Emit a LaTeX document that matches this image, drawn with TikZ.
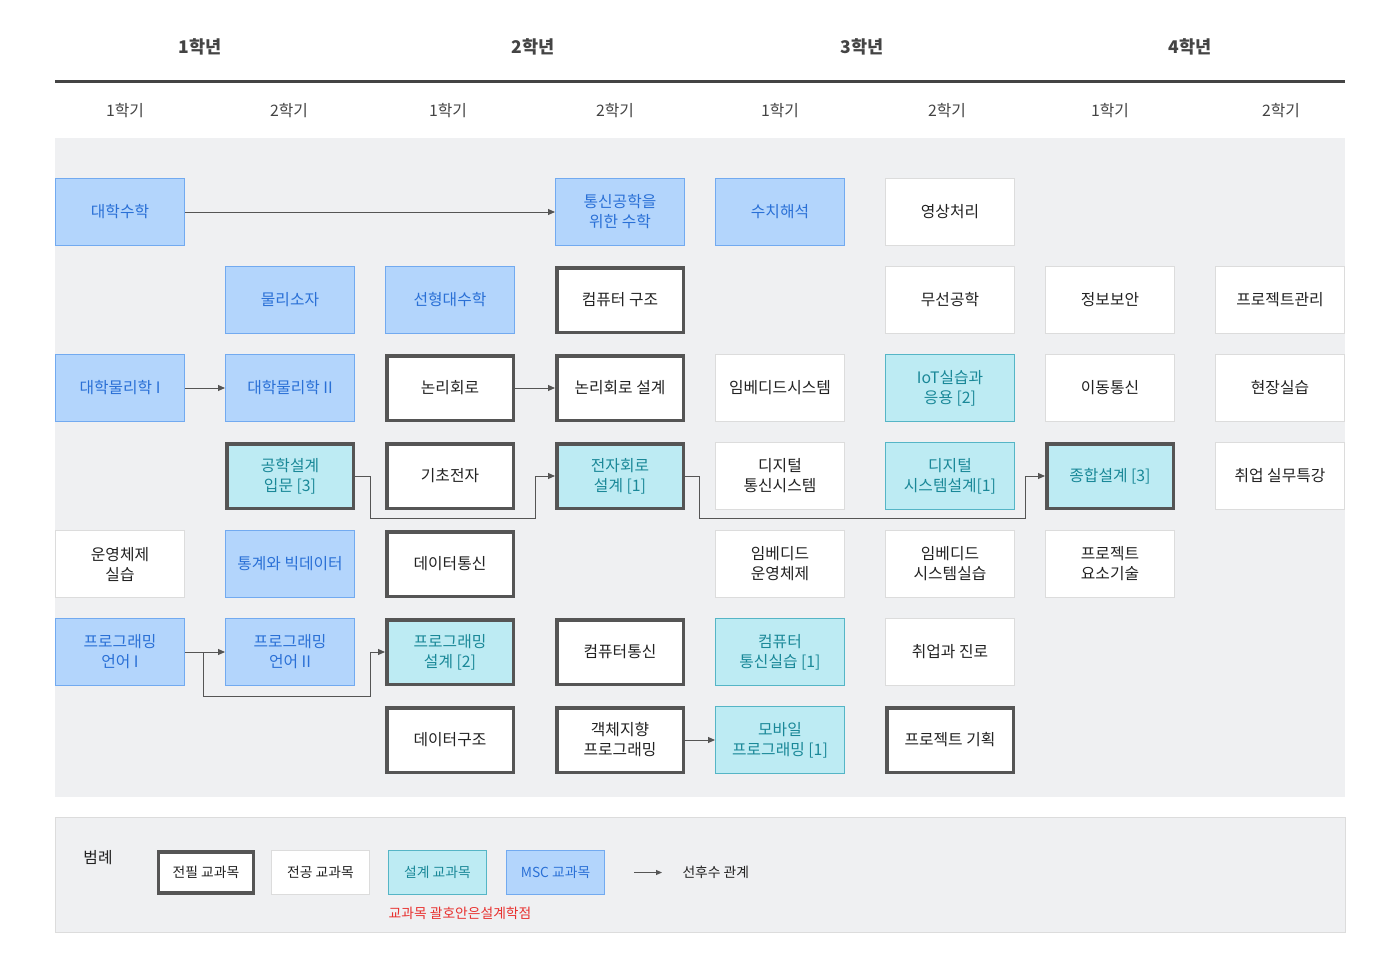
\documentclass[tikz,border=0pt]{standalone}
\usepackage{fontspec}
\setmainfont{Noto Sans CJK KR}
\usetikzlibrary{arrows.meta,calc}
\definecolor{panel}{HTML}{EFF0F2}
\definecolor{mscfill}{HTML}{B3D5FC}
\definecolor{mscline}{HTML}{72AAF0}
\definecolor{msctext}{HTML}{2A70D6}
\definecolor{dsgfill}{HTML}{BDEBF3}
\definecolor{dsgline}{HTML}{55B5C6}
\definecolor{dsgtext}{HTML}{1A8898}
\definecolor{majline}{HTML}{DCDCDC}
\definecolor{reqline}{HTML}{555555}
\definecolor{txt}{HTML}{222222}
\definecolor{hdr}{HTML}{444444}
\definecolor{conn}{HTML}{555555}
\definecolor{note}{HTML}{E8312F}
\begin{document}
\begin{tikzpicture}[x=1pt,y=-1pt,
  box/.style={inner sep=0pt, align=center, font=\fontsize{15.8}{20}\selectfont},
  thin/.style={box, line width=1pt, minimum width=129pt, minimum height=67pt},
  msc/.style={thin, fill=mscfill, draw=mscline, text=msctext},
  dsg/.style={thin, fill=dsgfill, draw=dsgline, text=dsgtext},
  maj/.style={thin, fill=white, draw=majline, text=txt},
  req/.style={box, line width=3.5pt, minimum width=126.5pt, minimum height=64.5pt, fill=white, draw=reqline, text=txt},
  reqd/.style={req, fill=dsgfill, text=dsgtext},
  arr/.style={draw=conn, line width=1pt, -{Triangle[length=7pt,width=6pt]}},
  year/.style={font=\fontsize{17.5}{20}\selectfont\bfseries, text=hdr},
  sem/.style={font=\fontsize{15.8}{20}\selectfont, text=hdr},
  lgbox/.style={inner sep=0pt, minimum width=98pt, minimum height=44pt, font=\fontsize{13.8}{16}\selectfont}
]
\useasboundingbox (0,0) rectangle (1400,971);
\fill[white] (0,0) rectangle (1400,971);

% header
\node[year] (y1) at (200,47) {1학년};
\node[year] (y2) at (533,47) {2학년};
\node[year] (y3) at (862,47) {3학년};
\node[year] (y4) at (1190,47) {4학년};
\draw[draw=hdr, line width=3pt] (55,82) -- (1345,82);
\node[sem] (s1) at (125,111) {1학기};
\node[sem] (s2) at (289,111) {2학기};
\node[sem] (s3) at (448,111) {1학기};
\node[sem] (s4) at (615,111) {2학기};
\node[sem] (s5) at (780,111) {1학기};
\node[sem] (s6) at (947,111) {2학기};
\node[sem] (s7) at (1110,111) {1학기};
\node[sem] (s8) at (1281,111) {2학기};

% panel
\fill[panel] (55,138) rectangle (1345,797);

% row 1
\node[msc] (a1) at (120,212) {대학수학};
\node[msc] (a4) at (620,212) {통신공학을\\위한 수학};
\node[msc] (a5) at (780,212) {수치해석};
\node[maj] (a6) at (950,212) {영상처리};
% row 2
\node[msc] (b2) at (290,300) {물리소자};
\node[msc] (b3) at (450,300) {선형대수학};
\node[req] (b4) at (620,300) {컴퓨터 구조};
\node[maj] (b6) at (950,300) {무선공학};
\node[maj] (b7) at (1110,300) {정보보안};
\node[maj] (b8) at (1280,300) {프로젝트관리};
% row 3
\node[msc] (c1) at (120,388) {대학물리학 I};
\node[msc] (c2) at (290,388) {대학물리학 II};
\node[req] (c3) at (450,388) {논리회로};
\node[req] (c4) at (620,388) {논리회로 설계};
\node[maj] (c5) at (780,388) {임베디드시스템};
\node[dsg] (c6) at (950,388) {IoT실습과\\응용 [2]};
\node[maj] (c7) at (1110,388) {이동통신};
\node[maj] (c8) at (1280,388) {현장실습};
% row 4
\node[reqd] (d2) at (290,476) {공학설계\\입문 [3]};
\node[req] (d3) at (450,476) {기초전자};
\node[reqd] (d4) at (620,476) {전자회로\\설계 [1]};
\node[maj] (d5) at (780,476) {디지털\\통신시스템};
\node[dsg] (d6) at (950,476) {디지털\\시스템설계[1]};
\node[reqd] (d7) at (1110,476) {종합설계 [3]};
\node[maj] (d8) at (1280,476) {취업 실무특강};
% row 5
\node[maj] (e1) at (120,564) {운영체제\\실습};
\node[msc] (e2) at (290,564) {통계와 빅데이터};
\node[req] (e3) at (450,564) {데이터통신};
\node[maj] (e5) at (780,564) {임베디드\\운영체제};
\node[maj] (e6) at (950,564) {임베디드\\시스템실습};
\node[maj] (e7) at (1110,564) {프로젝트\\요소기술};
% row 6
\node[msc] (f1) at (120,652) {프로그래밍\\언어 I};
\node[msc] (f2) at (290,652) {프로그래밍\\언어 II};
\node[reqd] (f3) at (450,652) {프로그래밍\\설계 [2]};
\node[req] (f4) at (620,652) {컴퓨터통신};
\node[dsg] (f5) at (780,652) {컴퓨터\\통신실습 [1]};
\node[maj] (f6) at (950,652) {취업과 진로};
% row 7
\node[req] (g3) at (450,740) {데이터구조};
\node[req] (g4) at (620,740) {객체지향\\프로그래밍};
\node[dsg] (g5) at (780,740) {모바일\\프로그래밍 [1]};
\node[req] (g6) at (950,740) {프로젝트 기획};

% connectors
\draw[arr] (a1.east) -- (a4.west);
\draw[arr] (c1.east) -- (c2.west);
\draw[arr] (c3.east) -- (c4.west);
\draw[arr] (d2.east) -| (370,518) -| (535,476) -- (d4.west);
\draw[arr] (d4.east) -| (699,518) -| (1025,476) -- (d7.west);
\draw[arr] (f1.east) -- (f2.west);
\coordinate (fb) at ($(f1.east)+(18,0)$);
\draw[arr] (fb) |- (370,696) |- (f3.west);
\draw[arr] (g4.east) -- (g5.west);

% legend
\draw[draw=majline, fill=panel, line width=1pt] (55,817) rectangle (1345,932);
\node[font=\fontsize{15.8}{20}\selectfont, text=txt] (lg) at (98,858) {범례};
\node[lgbox, draw=reqline, line width=3.5pt, minimum width=95pt, minimum height=41pt, fill=white, text=txt] (l1) at (206,872.5) {전필 교과목};
\node[lgbox, draw=majline, line width=1pt, fill=white, text=txt] (l2) at (320.5,872.5) {전공 교과목};
\node[lgbox, draw=dsgline, line width=1pt, fill=dsgfill, text=dsgtext] (l3) at (437.5,872.5) {설계 교과목};
\node[lgbox, draw=mscline, line width=1pt, fill=mscfill, text=msctext] (l4) at (555.5,872.5) {MSC 교과목};
\coordinate (la) at (634,872.5);
\node[font=\fontsize{13.8}{16}\selectfont, text=txt, anchor=west] (l5) at (679,872.5) {선후수 관계};
\draw[draw=conn, line width=1pt, -{Triangle[length=6pt,width=5pt]}] (la) -- ($(l5.west)+(-17,0)$);
\node[font=\fontsize{13.8}{16}\selectfont, text=note] (l6) at (460,913) {교과목 괄호안은설계학점};
\end{tikzpicture}
\end{document}
